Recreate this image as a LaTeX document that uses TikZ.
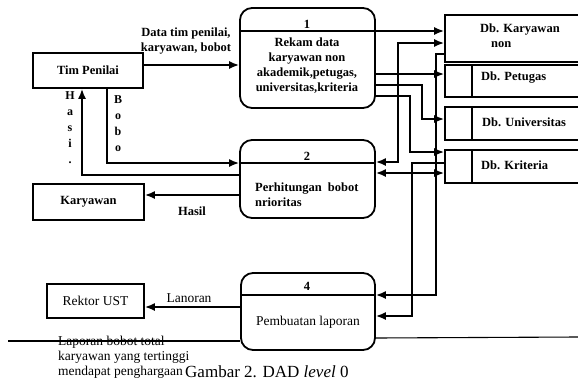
\documentclass[tikz,border=0pt]{standalone}
\usepackage{fontspec}
\setmainfont{Liberation Serif}
\usetikzlibrary{arrows.meta}
\begin{document}
\begin{tikzpicture}[x=1pt,y=-1pt,
  >={Latex[length=10pt,width=8pt]},
  ent/.style={draw, line width=1.8pt, inner sep=0pt},
  proc/.style={draw, line width=1.8pt, rounded corners=12pt, inner sep=0pt},
  bt/.style={font=\fontsize{12.5}{15}\selectfont\bfseries, inner sep=0pt},
  rt/.style={font=\fontsize{13.5}{15}\selectfont, inner sep=0pt},
  flow/.style={line width=1.6pt, ->},
  bflow/.style={line width=1.6pt, <->},
  rule/.style={line width=1.1pt},
]
\useasboundingbox (0,0) rectangle (578,383);

% external entities
\node[ent, bt, minimum width=110pt, minimum height=35pt] (tim) at (88,70.5) {Tim Penilai};
\node[ent, bt, minimum width=111pt, minimum height=36pt] (kar) at (88.5,202) {Karyawan};
\node[ent, rt, minimum width=97pt, minimum height=34pt] (rek) at (95.5,301) {Rektor UST};

% processes
\node[proc, minimum width=135pt, minimum height=100pt] (p1) at (307.5,58) {};
\node[proc, minimum width=135pt, minimum height=78pt] (p2) at (307.5,179) {};
\node[proc, minimum width=134pt, minimum height=77pt] (p3) at (308,311.5) {};
\draw[line width=1.6pt] (p1.west |- 0,31) -- (p1.east |- 0,31);
\draw[line width=1.6pt] (p2.west |- 0,163) -- (p2.east |- 0,163);
\draw[line width=1.6pt] (p3.west |- 0,295) -- (p3.east |- 0,295);
\node[bt] (n1) at (307,24) {1};
\node[bt, align=center, font=\fontsize{12.5}{15}\selectfont\bfseries] (t1) at (307,65.5)
  {Rekam data\\karyawan non\\akademik,petugas,\\universitas,kriteria};
\node[bt] (n2) at (307,156) {2};
\node[bt, align=left, anchor=north west] (t2) at (255,183)
  {Perhitungan\hspace{6pt}bobot\\nrioritas};
\node[bt] (n3) at (307,286) {4};
\node[rt] (t3) at (308,322) {Pembuatan laporan};

% data stores
\node[ent, minimum width=140pt, minimum height=47pt] (dbk) at (515,38.5) {};
\node[ent, minimum width=140pt, minimum height=32pt] (dbp) at (515,81) {};
\node[ent, minimum width=140pt, minimum height=33pt] (dbu) at (515,123.5) {};
\node[ent, minimum width=140pt, minimum height=33pt] (dbkr) at (515,166.5) {};
\draw[line width=1.4pt] (472,0 |- dbp.north) -- (472,0 |- dbp.south);
\draw[line width=1.4pt] (472,0 |- dbu.north) -- (472,0 |- dbu.south);
\draw[line width=1.4pt] (472,0 |- dbkr.north) -- (472,0 |- dbkr.south);
\node[bt, align=left, anchor=north west] (l1) at (480,24) {Db. Karyawan\\\hspace*{11pt}non};
\node[bt, anchor=west] (l2) at (481,78) {Db. Petugas};
\node[bt, anchor=west] (l3) at (482,122) {Db. Universitas};
\node[bt, anchor=west] (l4) at (481,165) {Db. Kriteria};

% flows on the right
\draw[flow] (p1.east |- 0,31) -- (dbk.west |- 0,31);
\draw[bflow] (dbk.west |- 0,43) -- (398,43) -- (398,162) -- (p2.east |- 0,162);
\draw[flow] (dbk.west |- 0,54) -- (436,54) -- (436,295) -- (p3.east |- 0,295);
\draw[flow] (p1.east |- 0,74) -- (dbp.west |- 0,74);
\draw[flow] (p1.east |- 0,85) -- (422,85) -- (422,119) -- (dbu.west |- 0,119);
\draw[flow] (p1.east |- 0,96) -- (410,96) -- (410,152) -- (dbkr.west |- 0,152);
\draw[flow] (dbkr.west |- 0,163) -- (412,163) -- (412,316) -- (p3.east |- 0,316);
\draw[bflow] (p2.east |- 0,173) -- (dbkr.west |- 0,173);

% flows on the left
\draw[flow] (tim.east |- 0,65) -- (p1.west |- 0,65);
\draw[flow] (107,0 |- tim.south) -- (107,163) -- (p2.west |- 0,163);
\draw[flow] (p2.west |- 0,175) -- (82,175) -- (82,0 |- tim.south);
\draw[flow] (p2.west |- 0,195) -- (kar.east |- 0,195);
\draw[flow] (p3.west |- 0,307) -- (rek.east |- 0,307);

% flow labels
\node[bt, align=center] (fl1) at (186,41) {Data tim penilai,\\karyawan, bobot};
\node[bt, align=center, font=\fontsize{12}{16}\selectfont\bfseries] (fl2) at (118,124) {B\\o\\b\\o};
\node[bt, align=center, font=\fontsize{12}{16}\selectfont\bfseries] (fl3) at (70,128) {H\\a\\s\\i\\.};
\node[bt] (fl4) at (192,211) {Hasil};
\node[rt] (fl5) at (189,298) {Lanoran};

% bottom rule and notes
\coordinate (r0) at (8,341);
\coordinate (r1) at (578,337);
\draw[rule] (r0) -- (p3.west |- r0);
\draw[rule] (p3.east |- 0,338) -- (r1);
\node[rt, align=left, anchor=north west] (note) at (58,336)
  {Laporan bobot total\\karyawan yang tertinggi\\mendapat penghargaan};
\node[inner sep=0pt, anchor=base west, font=\fontsize{17}{20}\selectfont] (cap) at (185,377)
  {Gambar 2. DAD \textit{level} 0};
\end{tikzpicture}
\end{document}
